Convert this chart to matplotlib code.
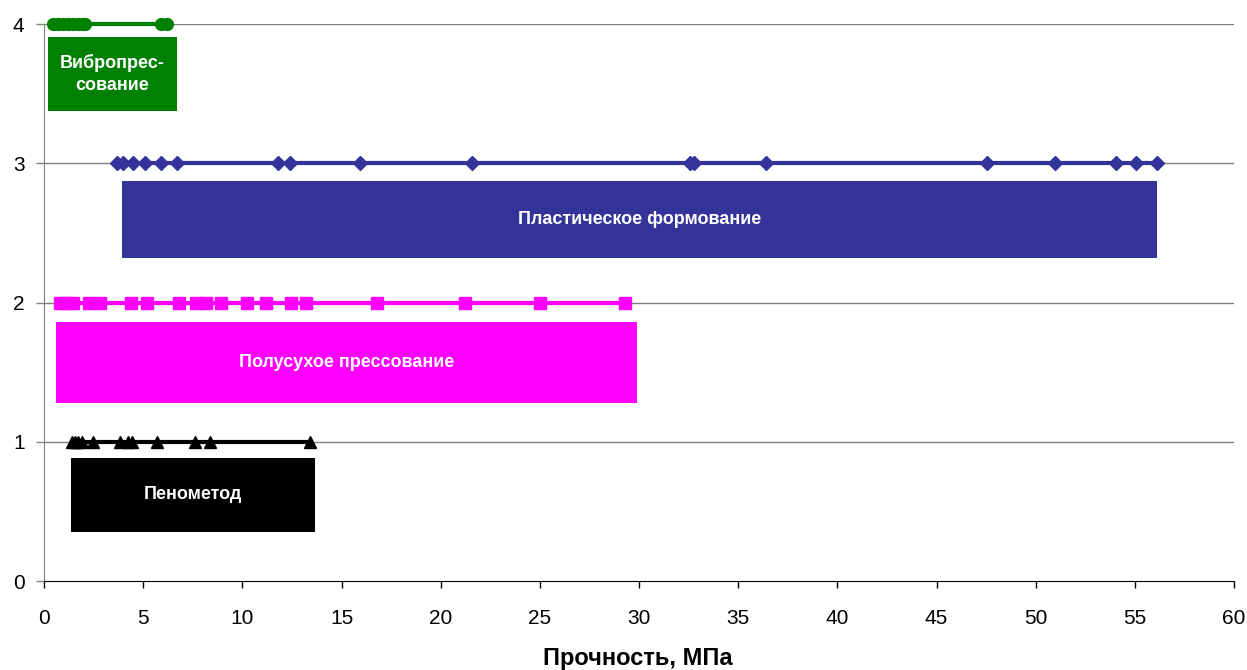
import matplotlib.pyplot as plt

plt.rcParams['font.family'] = ['Liberation Sans', 'DejaVu Sans']

# strength values (MPa) for each forming method
vibro_x = [0.45, 0.7, 0.95, 1.2, 1.45, 1.7, 1.95, 2.05, 5.9, 6.2]
plastic_x = [3.68, 3.98, 4.49, 5.09, 5.9, 6.71, 11.8, 12.4, 15.94, 21.58,
             32.58, 32.78, 36.4, 47.55, 50.98, 54.06, 55.07, 56.13]
semidry_x = [0.81, 1.16, 1.46, 2.27, 2.82, 4.39, 5.19, 6.81, 7.67, 8.17,
             8.93, 10.24, 11.19, 12.46, 13.21, 16.79, 21.23, 25.01, 29.3]
foam_x = [1.41, 1.56, 1.71, 1.92, 2.47, 3.83, 4.24, 4.44, 5.7, 7.61, 8.37, 13.41]

levels = [4, 3, 2, 1]
names = ['Вибропрес-\nсование', 'Пластическое формование',
         'Полусухое прессование', 'Пенометод']
# range boxes: left, right, bottom, top
box_left = [0.2, 3.93, 0.6, 1.36]
box_right = [6.7, 56.13, 29.9, 13.67]
box_bottom = [3.376, 2.321, 1.28, 0.354]
box_top = [3.907, 2.874, 1.861, 0.885]

colors = ['#008000', '#333399', '#FF00FF', '#000000']
markers = ['o', 'D', 's', '^']
msizes = [8.5, 7, 9, 8.5]
series = [vibro_x, plastic_x, semidry_x, foam_x]


def main():
    fig = plt.figure(figsize=(12.47, 6.7), dpi=100)
    ax = fig.add_axes([0.0353, 0.1324, 0.9543, 0.8316])

    for y in [1, 2, 3, 4]:
        ax.axhline(y, color='#808080', lw=1, zorder=1)

    for i in range(4):
        xs = series[i]
        ax.plot(xs, [levels[i]] * len(xs), color=colors[i], lw=3,
                marker=markers[i], ms=msizes[i], clip_on=False, zorder=4)
        w = box_right[i] - box_left[i]
        h = box_top[i] - box_bottom[i]
        ax.barh((box_top[i] + box_bottom[i]) / 2, w, left=box_left[i],
                height=h, color=colors[i], zorder=3)
        ax.text(box_left[i] + w / 2, (box_top[i] + box_bottom[i]) / 2, names[i],
                color='white', fontsize=13, fontweight='bold', ha='center',
                va='center', zorder=5, linespacing=1.4)

    ax.set_xlim(0, 60)
    ax.set_ylim(0, 4)
    ax.set_xticks(range(0, 61, 5))
    ax.set_yticks([0, 1, 2, 3, 4])
    ax.tick_params(axis='both', labelsize=15, direction='out', width=1)
    ax.tick_params(axis='x', pad=15, length=5)
    ax.tick_params(axis='y', colors='#808080', labelcolor='black', pad=8, length=6)
    ax.spines['top'].set_visible(False)
    ax.spines['right'].set_visible(False)
    ax.spines['left'].set_color('#808080')
    ax.spines['bottom'].set_color('black')

    # axis title sits close to the bottom edge, as in the original
    fig.text(0.5116, 0.008, 'Прочность, МПа', fontsize=17, fontweight='bold',
             ha='center', va='baseline')

    fig.savefig('out.png', dpi=100)


if __name__ == '__main__':
    main()
